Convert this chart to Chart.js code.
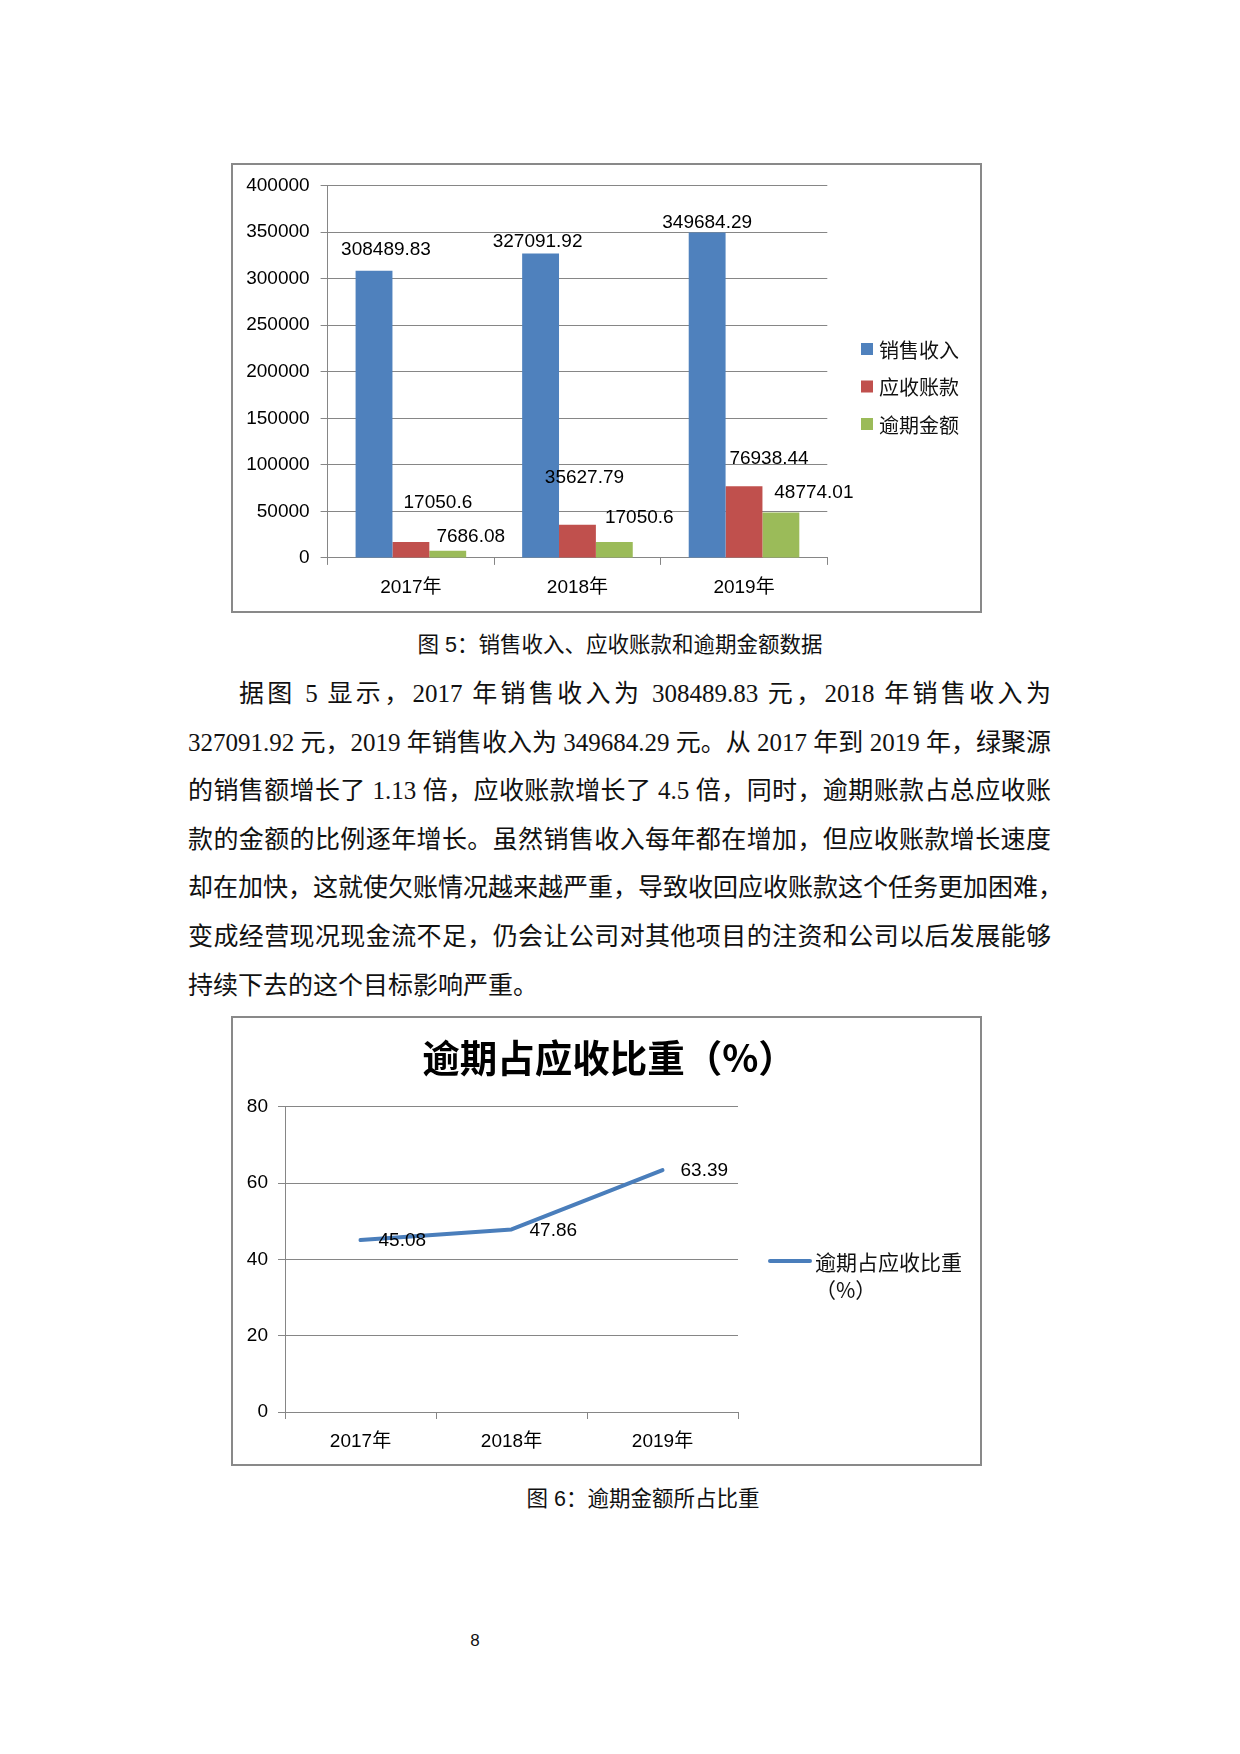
<!DOCTYPE html>
<html lang="zh-CN">
<head>
<meta charset="utf-8">
<script src="https://cdn.jsdelivr.net/npm/chart.js@4.4.1/dist/chart.umd.min.js"></script>
<style>
  html, body { margin: 0; padding: 0; background: #fff; }
  body { width: 1240px; height: 1754px; position: relative; overflow: hidden; }
  .box { position: absolute; width: 751px; height: 450px; }
  .box canvas { position: absolute; left: 0; top: 0; }
  .frame { position: absolute; left: 0; top: 0; width: 751px; height: 450px; box-sizing: border-box; border: 2px solid #898989; pointer-events: none; }
  .caption { position: absolute; font-family: "Liberation Sans", "Noto Sans CJK SC", sans-serif; font-size: 21.5px; color: #111; white-space: nowrap; transform: translate(-50%, -50%); line-height: 1; }
  .para { position: absolute; left: 188px; top: 670px; width: 863px; font-family: "Liberation Serif", "Noto Sans CJK SC", serif; font-size: 25px; line-height: 48.6px; color: #111; }
  .para div { white-space: nowrap; text-align: justify; text-align-last: justify; }
  .para div.first { padding-left: 51px; }
  .para div.last { text-align: left; text-align-last: left; }
  .pageno { position: absolute; left: 475px; top: 1640px; transform: translate(-50%, -50%); font-family: "Liberation Sans", sans-serif; font-size: 17px; color: #111; line-height: 1; }
</style>
</head>
<body>

<div class="box" style="left:231px; top:163px;">
  <canvas id="c1" width="751" height="450"></canvas>
  <div class="frame"></div>
</div>
<div class="caption" style="left:620px; top:646px;">图 5：销售收入、应收账款和逾期金额数据</div>

<div class="para">
  <div class="first">据图 5 显示，2017 年销售收入为 308489.83 元，2018 年销售收入为</div>
  <div>327091.92 元，2019 年销售收入为 349684.29 元。从 2017 年到 2019 年，绿聚源</div>
  <div>的销售额增长了 1.13 倍，应收账款增长了 4.5 倍，同时，逾期账款占总应收账</div>
  <div>款的金额的比例逐年增长。虽然销售收入每年都在增加，但应收账款增长速度</div>
  <div>却在加快，这就使欠账情况越来越严重，导致收回应收账款这个任务更加困难，</div>
  <div>变成经营现况现金流不足，仍会让公司对其他项目的注资和公司以后发展能够</div>
  <div class="last">持续下去的这个目标影响严重。</div>
</div>

<div class="box" style="left:231px; top:1016px;">
  <canvas id="c2" width="751" height="450"></canvas>
  <div class="frame"></div>
</div>
<div class="caption" style="left:643px; top:1500px;">图 6：逾期金额所占比重</div>

<div class="pageno">8</div>

<script>
// ---------- data ----------
const years = ['2017年', '2018年', '2019年'];
const seriesNames = ['销售收入', '应收账款', '逾期金额'];
const sales = [308489.83, 327091.92, 349684.29];
const receivables = [17050.6, 35627.79, 76938.44];
const overdue = [7686.08, 17050.6, 48774.01];
const amountTickMax = 400000;
const amountTickStep = 50000;

const ratioName = '逾期占应收比重（%）';
const ratio = [45.08, 47.86, 63.39];
const ratioTickMax = 80;
const ratioTickStep = 20;

// ---------- styles ----------
const NUM_FONT = '"Liberation Sans", "Noto Sans CJK SC", sans-serif';
const CJK_FONT = '"Noto Sans CJK SC", sans-serif';
const GRID = '#868686';
const barColors = ['#4f81bd', '#c0504d', '#9bbb59'];
const lineColor = '#4a7ebb';

Chart.defaults.font.family = NUM_FONT;
Chart.defaults.color = '#000';

// ---------- chart 1 plugins ----------
const barLabels = {
  id: 'barLabels',
  afterDatasetsDraw(chart, args, opts) {
    const ctx = chart.ctx;
    ctx.save();
    ctx.font = '19px ' + NUM_FONT;
    ctx.fillStyle = '#000';
    ctx.textAlign = 'center';
    ctx.textBaseline = 'middle';
    chart.data.datasets.forEach((ds, i) => {
      const meta = chart.getDatasetMeta(i);
      meta.data.forEach((bar, j) => {
        const off = opts.offsets[i][j];
        ctx.fillText(String(ds.data[j]), bar.x + off[0], bar.y + off[1]);
      });
    });
    ctx.restore();
  }
};

const boxLegend = {
  id: 'boxLegend',
  afterDraw(chart, args, opts) {
    const ctx = chart.ctx;
    ctx.save();
    ctx.font = '20px ' + CJK_FONT;
    ctx.textBaseline = 'middle';
    ctx.textAlign = 'left';
    chart.data.datasets.forEach((ds, i) => {
      const y = opts.y0 + i * opts.gap;
      ctx.fillStyle = ds.backgroundColor;
      ctx.fillRect(opts.x, y - 6, 12, 12);
      ctx.fillStyle = '#111';
      ctx.fillText(ds.label, opts.x + 18, y + 1);
    });
    ctx.restore();
  }
};

new Chart(document.getElementById('c1'), {
  type: 'bar',
  data: {
    labels: years,
    datasets: [
      { label: seriesNames[0], data: sales, backgroundColor: barColors[0] },
      { label: seriesNames[1], data: receivables, backgroundColor: barColors[1] },
      { label: seriesNames[2], data: overdue, backgroundColor: barColors[2] }
    ]
  },
  options: {
    responsive: false,
    animation: false,
    devicePixelRatio: 1,
    datasets: { bar: { barPercentage: 1.0, categoryPercentage: 0.664, borderWidth: 0 } },
    layout: { padding: { left: 0, right: 154.7, top: 22.6, bottom: 0 } },
    plugins: {
      legend: { display: false },
      tooltip: { enabled: false },
      barLabels: {
        offsets: [
          [[12, -20.6], [-3, -12], [0, -10]],
          [[27, -39], [7, -47], [25, -28]],
          [[23, -14], [25, -24], [33, -19.5]]
        ]
      },
      boxLegend: { x: 630, y0: 186, gap: 37.5 }
    },
    scales: {
      x: {
        grid: { offset: true, drawOnChartArea: false, drawTicks: true, tickLength: 7, color: GRID, lineWidth: 1 },
        border: { color: GRID, width: 1 },
        ticks: { font: { size: 19, family: NUM_FONT }, color: '#000', padding: 11 },
        afterFit(s) { s.height = 55.1; }
      },
      y: {
        min: 0, max: amountTickMax,
        grid: { color: GRID, lineWidth: 1, tickLength: 7 },
        border: { color: GRID, width: 1 },
        ticks: { stepSize: amountTickStep, font: { size: 19, family: NUM_FONT }, color: '#000', padding: 11,
                 callback: (v) => String(v) },
        afterFit(s) { s.width = 96.6; }
      }
    }
  },
  plugins: [barLabels, boxLegend]
});

// ---------- chart 2 plugins ----------
const lineExtras = {
  id: 'lineExtras',
  afterDatasetsDraw(chart, args, opts) {
    const ctx = chart.ctx;
    ctx.save();
    // data labels
    ctx.font = '19px ' + NUM_FONT;
    ctx.fillStyle = '#000';
    ctx.textAlign = 'left';
    ctx.textBaseline = 'middle';
    const meta = chart.getDatasetMeta(0);
    const ds = chart.data.datasets[0];
    meta.data.forEach((pt, j) => {
      ctx.fillText(ds.data[j].toFixed(2), pt.x + 18, pt.y + 1);
    });
    // title
    ctx.font = 'bold 37.5px ' + CJK_FONT;
    ctx.textAlign = 'center';
    ctx.fillStyle = '#000';
    ctx.fillText(opts.title, opts.titleX, opts.titleY);
    // legend
    const parts = ds.label.split('（');
    ctx.strokeStyle = ds.borderColor;
    ctx.lineWidth = 4;
    ctx.lineCap = 'round';
    ctx.beginPath();
    ctx.moveTo(opts.legX, opts.legY);
    ctx.lineTo(opts.legX + 40, opts.legY);
    ctx.stroke();
    ctx.font = '21px ' + CJK_FONT;
    ctx.textAlign = 'left';
    ctx.fillStyle = '#111';
    ctx.fillText(parts[0], opts.legX + 45, opts.legY + 1);
    if (parts.length > 1) ctx.fillText('（' + parts[1], opts.legX + 45, opts.legY + 29);
    ctx.restore();
  }
};

new Chart(document.getElementById('c2'), {
  type: 'line',
  data: {
    labels: years,
    datasets: [
      { label: ratioName, data: ratio, borderColor: lineColor, backgroundColor: lineColor,
        borderWidth: 4, pointRadius: 0, tension: 0, fill: false, borderCapStyle: 'round', borderJoinStyle: 'round' }
    ]
  },
  options: {
    responsive: false,
    animation: false,
    devicePixelRatio: 1,
    layout: { padding: { left: 0, right: 244, top: 90.8, bottom: 0 } },
    plugins: {
      legend: { display: false },
      tooltip: { enabled: false },
      title: { display: false },
      lineExtras: { title: ratioName, titleX: 378, titleY: 42, legX: 539, legY: 245 }
    },
    scales: {
      x: {
        offset: true,
        grid: { offset: true, drawOnChartArea: false, drawTicks: true, tickLength: 7, color: GRID, lineWidth: 1 },
        border: { color: GRID, width: 1 },
        ticks: { font: { size: 19, family: NUM_FONT }, color: '#000', padding: 11 },
        afterFit(s) { s.height = 54; }
      },
      y: {
        min: 0, max: ratioTickMax,
        grid: { color: GRID, lineWidth: 1, tickLength: 7 },
        border: { color: GRID, width: 1 },
        ticks: { stepSize: ratioTickStep, font: { size: 19, family: NUM_FONT }, color: '#000', padding: 10 },
        afterFit(s) { s.width = 54; }
      }
    }
  },
  plugins: [lineExtras]
});
</script>
</body>
</html>
